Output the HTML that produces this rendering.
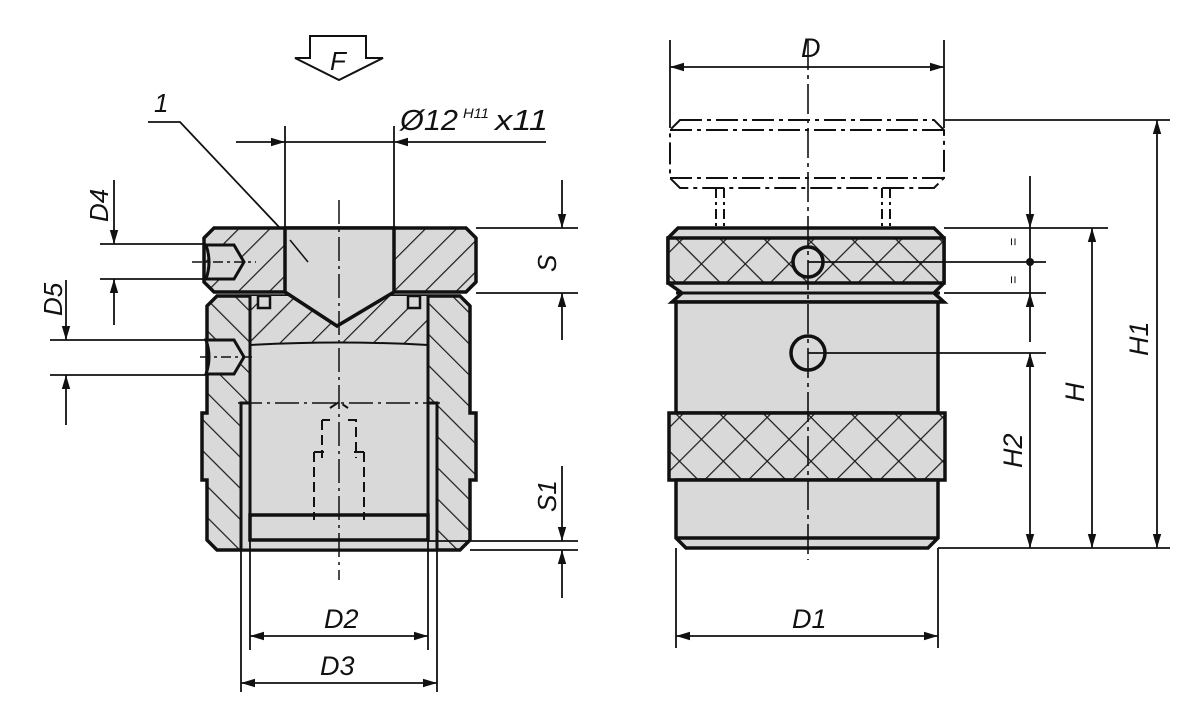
<!DOCTYPE html>
<html><head><meta charset="utf-8"><style>
html,body{margin:0;padding:0;background:#fff;}
svg{display:block;}
text{font-family:"Liberation Sans",sans-serif;font-style:italic;fill:#111;}
</style></head><body>
<svg width="1200" height="724" viewBox="0 0 1200 724" xmlns="http://www.w3.org/2000/svg">
<defs>
<pattern id="h1" patternUnits="userSpaceOnUse" width="22" height="22" patternTransform="rotate(45)">
<rect width="22" height="22" fill="#d9d9d9"/><line x1="0" y1="0" x2="0" y2="22" stroke="#1a1a1a" stroke-width="2.4"/></pattern>
<pattern id="h2" patternUnits="userSpaceOnUse" width="22" height="22" patternTransform="rotate(-45)">
<rect width="22" height="22" fill="#d9d9d9"/><line x1="0" y1="0" x2="0" y2="22" stroke="#1a1a1a" stroke-width="2.4"/></pattern>
<pattern id="kn" patternUnits="userSpaceOnUse" width="31" height="31" patternTransform="rotate(45)">
<rect width="31" height="31" fill="#d9d9d9"/><line x1="0" y1="0" x2="0" y2="31" stroke="#1a1a1a" stroke-width="2.4"/><line x1="0" y1="0" x2="31" y2="0" stroke="#1a1a1a" stroke-width="2.4"/></pattern>
<marker id="a" viewBox="0 0 10 10" refX="10" refY="5" markerWidth="14" markerHeight="14" markerUnits="userSpaceOnUse" orient="auto-start-reverse"><path d="M0,2 L10,5 L0,8 Z" fill="#111"/></marker>
</defs>
<g stroke="#111" fill="none">

<!-- F arrow -->
<path d="M310,36 H366 V58 H383 L339,80 L295,58 H310 Z" stroke-width="2"/>
<text x="330" y="70" font-size="26" stroke="none">F</text>

<!-- label 1 -->
<text x="154" y="112" font-size="26" stroke="none">1</text>
<path d="M148,122 H180 L280,228" stroke-width="1.8"/>

<!-- Ø12 dimension -->
<line x1="285" y1="126" x2="285" y2="228" stroke-width="1.8"/>
<line x1="394" y1="126" x2="394" y2="228" stroke-width="1.8"/>
<line x1="236" y1="142" x2="285" y2="142" stroke-width="1.8" marker-end="url(#a)"/>
<line x1="546" y1="142" x2="394" y2="142" stroke-width="1.8" marker-end="url(#a)"/>
<line x1="285" y1="142" x2="394" y2="142" stroke-width="1.8"/>
<text x="400" y="130" font-size="29" stroke="none" textLength="58" lengthAdjust="spacingAndGlyphs">Ø12</text>
<text x="463" y="118" font-size="14" stroke="none" textLength="26" lengthAdjust="spacingAndGlyphs">H11</text>
<text x="495" y="130" font-size="29" stroke="none" textLength="53" lengthAdjust="spacingAndGlyphs">x11</text>

<!-- LEFT VIEW body -->
<path d="M217,296 H460 L470,306 V413 H476 V480 H470 V540 L460,550 H217 L207,540 V480 H202 V413 H207 V306 Z" fill="url(#h2)" stroke-width="3.5"/>
<rect x="241" y="403" width="196" height="147" fill="#d9d9d9" stroke-width="3"/>
<path d="M250,296 H428 V515 H250 Z" fill="#d9d9d9" stroke-width="3"/>
<path d="M250,296 H428 V345 Q339,340 250,345 Z" fill="url(#h1)" stroke-width="0"/>
<path d="M250,345 Q339,340 428,345" stroke-width="2"/>
<rect x="258" y="296" width="12" height="12" fill="#d9d9d9" stroke-width="2.5"/>
<rect x="408" y="296" width="12" height="12" fill="#d9d9d9" stroke-width="2.5"/>
<line x1="250" y1="296" x2="250" y2="515" stroke-width="3"/>
<line x1="428" y1="296" x2="428" y2="515" stroke-width="3"/>
<rect x="250" y="515" width="178" height="25" fill="#d9d9d9" stroke-width="3.5"/>
<path d="M214,228 H466 L476,238 V282 L466,292 H214 L204,282 V238 Z" fill="url(#h1)" stroke-width="3.5"/>
<path d="M285,228 V292 L337,326 L394,292 V228 Z" fill="#d9d9d9" stroke-width="3.5"/>
<line x1="290" y1="240" x2="308" y2="262" stroke-width="1.5"/>
<path d="M206,245 H234 L244,262 L234,279 H206 Q212,262 206,245 Z" fill="#d9d9d9" stroke-width="3"/>
<path d="M206,340 H234 L244,357 L234,374 H206 Q212,357 206,340 Z" fill="#d9d9d9" stroke-width="3"/>
<path d="M322,420 V458 M330,420 H322 M348,420 H356 V458 M314,452 V520 M364,452 V520 M314,452 H326 M364,452 H352 M330,408 L339,402 L348,408" stroke-width="2" stroke-dasharray="10,5"/>
<line x1="339" y1="200" x2="339" y2="580" stroke-width="1.5" stroke-dasharray="24,5,3,5"/>
<line x1="238" y1="403" x2="440" y2="403" stroke-width="1.5" stroke-dasharray="24,5,3,5"/>
<line x1="192" y1="262" x2="256" y2="262" stroke-width="1.5" stroke-dasharray="10,4,3,4"/>
<line x1="200" y1="357" x2="252" y2="357" stroke-width="1.5" stroke-dasharray="10,4,3,4"/>

<!-- D4 -->
<line x1="100" y1="244" x2="206" y2="244" stroke-width="1.8"/>
<line x1="100" y1="279" x2="206" y2="279" stroke-width="1.8"/>
<line x1="114" y1="180" x2="114" y2="244" stroke-width="1.8" marker-end="url(#a)"/>
<line x1="114" y1="325" x2="114" y2="279" stroke-width="1.8" marker-end="url(#a)"/>
<text transform="translate(108,222) rotate(-90)" font-size="26" stroke="none">D4</text>
<!-- D5 -->
<line x1="50" y1="340" x2="206" y2="340" stroke-width="1.8"/>
<line x1="50" y1="375" x2="206" y2="375" stroke-width="1.8"/>
<line x1="66" y1="280" x2="66" y2="340" stroke-width="1.8" marker-end="url(#a)"/>
<line x1="66" y1="425" x2="66" y2="375" stroke-width="1.8" marker-end="url(#a)"/>
<text transform="translate(62,316) rotate(-90)" font-size="26" stroke="none">D5</text>

<!-- S -->
<line x1="476" y1="228" x2="578" y2="228" stroke-width="1.8"/>
<line x1="476" y1="293" x2="578" y2="293" stroke-width="1.8"/>
<line x1="562" y1="180" x2="562" y2="228" stroke-width="1.8" marker-end="url(#a)"/>
<line x1="562" y1="340" x2="562" y2="293" stroke-width="1.8" marker-end="url(#a)"/>
<text transform="translate(556,272) rotate(-90)" font-size="26" stroke="none">S</text>
<!-- S1 -->
<line x1="428" y1="541" x2="578" y2="541" stroke-width="1.8"/>
<line x1="470" y1="550" x2="578" y2="550" stroke-width="1.8"/>
<line x1="562" y1="466" x2="562" y2="541" stroke-width="1.8" marker-end="url(#a)"/>
<line x1="562" y1="598" x2="562" y2="550" stroke-width="1.8" marker-end="url(#a)"/>
<text transform="translate(556,512) rotate(-90)" font-size="26" stroke="none">S1</text>

<!-- D2 D3 -->
<line x1="250" y1="540" x2="250" y2="650" stroke-width="1.8"/>
<line x1="428" y1="540" x2="428" y2="650" stroke-width="1.8"/>
<line x1="241" y1="550" x2="241" y2="692" stroke-width="1.8"/>
<line x1="437" y1="550" x2="437" y2="692" stroke-width="1.8"/>
<line x1="250" y1="636" x2="428" y2="636" stroke-width="1.8" marker-start="url(#a)" marker-end="url(#a)"/>
<line x1="241" y1="683" x2="437" y2="683" stroke-width="1.8" marker-start="url(#a)" marker-end="url(#a)"/>
<text x="324" y="628" font-size="27" stroke="none">D2</text>
<text x="320" y="675" font-size="27" stroke="none">D3</text>

<!-- RIGHT VIEW -->
<path d="M680,120 H934 L944,130 V178 L934,188 H680 L670,178 V130 Z M670,130 H944 M670,178 H944" stroke-width="2" stroke-dasharray="22,5,4,5"/>
<path d="M716,188 V228 M724,188 V228 M882,188 V228 M890,188 V228" stroke-width="2" stroke-dasharray="10,4,3,4"/>
<path d="M678,228 H934 L944,238 V283 L934,293 L944,302 H672 L682,293 L668,283 V238 Z" fill="#d9d9d9" stroke-width="3.5"/>
<rect x="668" y="238" width="276" height="45" fill="url(#kn)" stroke-width="3.5"/>
<line x1="676" y1="293" x2="940" y2="293" stroke-width="3"/>
<circle cx="808" cy="262" r="15" fill="#d9d9d9" stroke-width="3.5"/>
<path d="M676,302 H938 V413 H676 Z" fill="#d9d9d9" stroke-width="3.5"/>
<rect x="669" y="413" width="276" height="67" fill="url(#kn)" stroke-width="3.5"/>
<path d="M676,480 H938 V538 L928,548 H686 L676,538 Z M676,538 H938" fill="#d9d9d9" stroke-width="3.5"/>
<circle cx="808" cy="353" r="17" fill="#d9d9d9" stroke-width="3.5"/>
<line x1="808" y1="40" x2="808" y2="560" stroke-width="1.6" stroke-dasharray="30,5,4,5"/>

<!-- D -->
<line x1="670" y1="40" x2="670" y2="128" stroke-width="1.8"/>
<line x1="944" y1="40" x2="944" y2="128" stroke-width="1.8"/>
<line x1="670" y1="67" x2="944" y2="67" stroke-width="1.8" marker-start="url(#a)" marker-end="url(#a)"/>
<text x="801" y="57" font-size="27" stroke="none">D</text>
<!-- D1 -->
<line x1="676" y1="548" x2="676" y2="648" stroke-width="1.8"/>
<line x1="938" y1="548" x2="938" y2="648" stroke-width="1.8"/>
<line x1="676" y1="636" x2="938" y2="636" stroke-width="1.8" marker-start="url(#a)" marker-end="url(#a)"/>
<text x="792" y="628" font-size="27" stroke="none">D1</text>

<!-- right dims -->
<line x1="944" y1="120" x2="1170" y2="120" stroke-width="1.8"/>
<line x1="944" y1="228" x2="1108" y2="228" stroke-width="1.8"/>
<line x1="808" y1="262" x2="1046" y2="262" stroke-width="1.8"/>
<line x1="944" y1="293" x2="1046" y2="293" stroke-width="1.8"/>
<line x1="808" y1="353" x2="1046" y2="353" stroke-width="1.8"/>
<line x1="938" y1="548" x2="1170" y2="548" stroke-width="1.8"/>
<line x1="1030" y1="176" x2="1030" y2="228" stroke-width="1.8" marker-end="url(#a)"/>
<line x1="1030" y1="342" x2="1030" y2="293" stroke-width="1.8" marker-end="url(#a)"/>
<line x1="1030" y1="228" x2="1030" y2="293" stroke-width="1.8"/>
<circle cx="1030" cy="262" r="4" fill="#111" stroke="none"/>
<text transform="translate(1018,246) rotate(-90)" font-size="14" stroke="none">=</text>
<text transform="translate(1018,284) rotate(-90)" font-size="14" stroke="none">=</text>
<line x1="1030" y1="353" x2="1030" y2="548" stroke-width="1.8" marker-start="url(#a)" marker-end="url(#a)"/>
<text transform="translate(1022,468) rotate(-90)" font-size="27" stroke="none">H2</text>
<line x1="1092" y1="228" x2="1092" y2="548" stroke-width="1.8" marker-start="url(#a)" marker-end="url(#a)"/>
<text transform="translate(1084,402) rotate(-90)" font-size="27" stroke="none">H</text>
<line x1="1157" y1="120" x2="1157" y2="548" stroke-width="1.8" marker-start="url(#a)" marker-end="url(#a)"/>
<text transform="translate(1148,356) rotate(-90)" font-size="27" stroke="none">H1</text>
</g>
</svg>
</body></html>
